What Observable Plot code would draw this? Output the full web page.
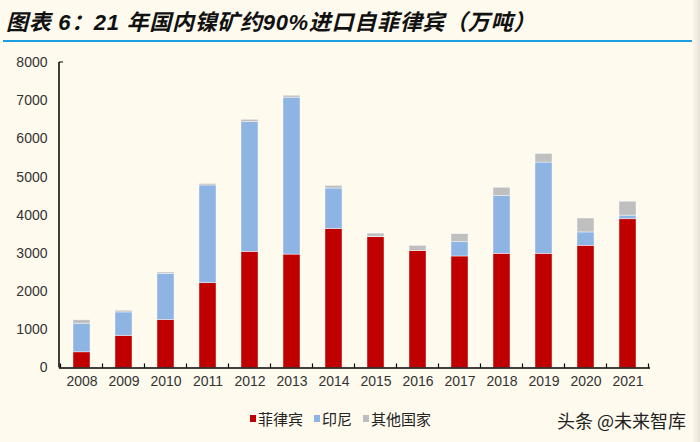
<!DOCTYPE html>
<html>
<head>
<meta charset="utf-8">
<script src="https://cdn.jsdelivr.net/npm/d3@7"></script>
<script src="https://cdn.jsdelivr.net/npm/@observablehq/plot@0.6"></script>
<style>
html,body{margin:0;padding:0;background:#fefaee;width:700px;height:442px;overflow:hidden;position:relative;}
#title{position:absolute;left:6px;top:4px;font:italic bold 22px "Liberation Sans","Noto Sans CJK SC",sans-serif;color:#111;white-space:nowrap;letter-spacing:0.7px;}
#rule{position:absolute;left:3px;top:40px;width:692px;height:2px;background:#1c9fe2;}
#chart{position:absolute;left:0;top:50px;}
#legend{position:absolute;top:408px;left:250px;display:flex;align-items:center;font:15px "Noto Sans CJK SC",sans-serif;color:#222;}
#legend .item{display:flex;align-items:center;margin-right:11px;}
#legend .sw{width:6px;height:7px;margin-right:2px;}
#wm{position:absolute;left:557px;top:407px;font:18px "Noto Sans CJK SC",sans-serif;color:#222;white-space:nowrap;}
#edge{position:absolute;right:0;top:0;width:8px;height:442px;background:linear-gradient(to right,#fefaee,#e6e2d8);}
</style>
</head>
<body>
<div id="title">图表 6：21 年国内镍矿约90%进口自菲律宾（万吨）</div>
<div id="rule"></div>
<div id="chart"></div>
<div id="legend"></div>
<div id="wm">头条 @未来智库</div>
<div id="edge"></div>
<script>
const years = ["2008","2009","2010","2011","2012","2013","2014","2015","2016","2017","2018","2019","2020","2021"];
const philippines = [410, 840, 1255, 2220, 3040, 2970, 3640, 3425, 3060, 2920, 2990, 2990, 3200, 3895];
const indonesia   = [750, 615, 1210, 2560, 3400, 4110, 1060, 10, 0, 375, 1510, 2390, 350, 95];
const others      = [90, 45, 35, 40, 60, 50, 70, 85, 140, 210, 220, 225, 365, 365];
const seriesNames = ["菲律宾", "印尼", "其他国家"];
const seriesColors = ["#c00000", "#8eb4e3", "#bfbfbf"];
const yTicks = [0, 1000, 2000, 3000, 4000, 5000, 6000, 7000, 8000];

const seriesValues = [philippines, indonesia, others];
const data = [];
years.forEach((yr, i) => {
  seriesNames.forEach((s, j) => data.push({year: yr, series: s, value: seriesValues[j][i]}));
});

const chart = Plot.plot({
  width: 700,
  height: 345,
  marginTop: 12,
  marginBottom: 27.5,
  marginLeft: 59,
  marginRight: 50,
  style: {background: "transparent", fontFamily: "Liberation Sans, Arial, sans-serif", fontSize: "14px", color: "#333"},
  x: {domain: years, paddingInner: 0.6, paddingOuter: 0.3, label: null},
  y: {domain: [0, 8000], label: null},
  color: {domain: seriesNames, range: seriesColors},
  marks: [
    Plot.barY(data, {x: "year", y: "value", fill: "series", order: seriesNames, stroke: "#fff", strokeWidth: 0.6, strokeOpacity: 0.7}),
    Plot.axisY({ticks: yTicks, tickFormat: d => String(d), tickSize: 0, tickPadding: 12, label: null, fontSize: 14}),
    Plot.axisX({tickSize: 0, tickPadding: 8, label: null, fontSize: 14}),
    Plot.ruleY([0], {stroke: "#000", strokeWidth: 1.5})
  ]
});

// axis line and boundary ticks from the scales
const xs = chart.scale("x"), ys = chart.scale("y");
const svg = d3.select(chart);
const y0 = ys.apply(0), yTop = ys.apply(8000);
const x0 = xs.range[0];
const g = svg.append("g").attr("stroke", "#000");
g.append("line").attr("x1", x0).attr("x2", x0).attr("y1", yTop).attr("y2", y0).attr("stroke-width", 1.5);
g.append("line").attr("x1", x0).attr("x2", x0 + 4).attr("y1", yTop).attr("y2", yTop).attr("stroke-width", 1);
const half = (xs.step - xs.bandwidth) / 2;
const bounds = years.map(y => xs.apply(y) - half);
bounds.push(xs.apply(years[years.length - 1]) + xs.bandwidth + half);
bounds.forEach(b => g.append("line").attr("x1", b).attr("x2", b).attr("y1", y0).attr("y2", y0 - 4).attr("stroke-width", 1.2));

document.getElementById("chart").appendChild(chart);

const legend = document.getElementById("legend");
seriesNames.forEach((s, i) => {
  const it = document.createElement("div");
  it.className = "item";
  const sw = document.createElement("span");
  sw.className = "sw";
  sw.style.background = seriesColors[i];
  const t = document.createElement("span");
  t.textContent = s;
  it.appendChild(sw); it.appendChild(t);
  legend.appendChild(it);
});
</script>
</body>
</html>
